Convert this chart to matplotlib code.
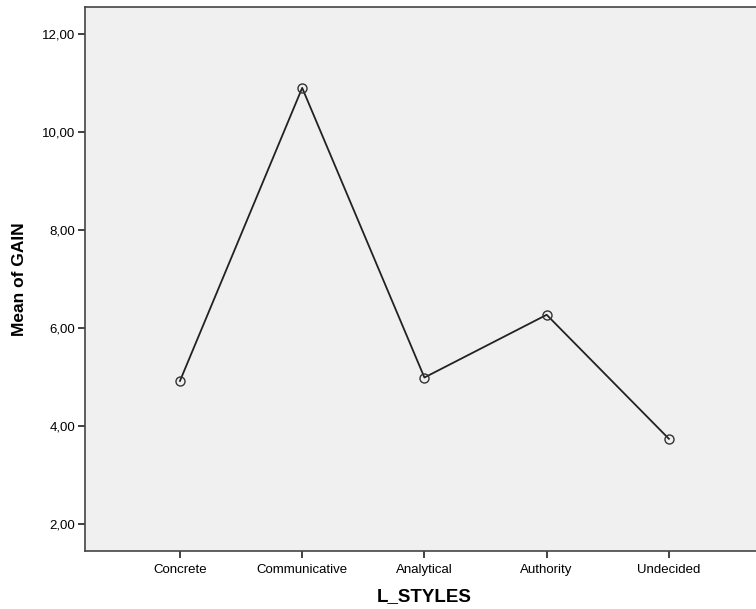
import matplotlib
matplotlib.use('Agg')
import matplotlib.pyplot as plt
from matplotlib.ticker import FuncFormatter

styles = ["Concrete", "Communicative", "Analytical", "Authority", "Undecided"]
mean_gain = [4.92, 10.90, 4.99, 6.27, 3.74]
y_ticks = [2, 4, 6, 8, 10, 12]

plt.rcParams['font.family'] = ['Liberation Sans', 'DejaVu Sans']

fig = plt.figure(figsize=(7.56, 6.09), dpi=100)
ax = fig.add_axes([0.1124, 0.0952, 0.898, 0.8933])
ax.set_facecolor('#f0f0f0')

x = list(range(len(styles)))
ax.plot(x, mean_gain, color='#222222', linewidth=1.3, marker='o',
        markersize=6.5, markerfacecolor='none', markeredgecolor='#333333',
        markeredgewidth=1.0)

ax.set_xlim(-0.777, 4.777)
ax.set_ylim(1.45, 12.55)
ax.set_xticks(x)
ax.set_xticklabels(styles, fontsize=9.5)
ax.set_yticks(y_ticks)
ax.yaxis.set_major_formatter(FuncFormatter(lambda v, p: ('%.2f' % v).replace('.', ',')))
ax.tick_params(axis='y', labelsize=9.5, length=5, width=1.3, color='#333333', pad=2)
ax.tick_params(axis='x', labelsize=9.5, length=5, width=1.3, color='#333333', pad=4)

for s in ['left', 'bottom', 'top']:
    ax.spines[s].set_color('#444444')
    ax.spines[s].set_linewidth(1.2)
ax.spines['right'].set_visible(False)

ax.set_xlabel('L_STYLES', fontsize=13.5, fontweight='bold', labelpad=9)
ax.set_ylabel('Mean of GAIN', fontsize=12.5, fontweight='bold', labelpad=11)

fig.savefig('out.png', dpi=100)
